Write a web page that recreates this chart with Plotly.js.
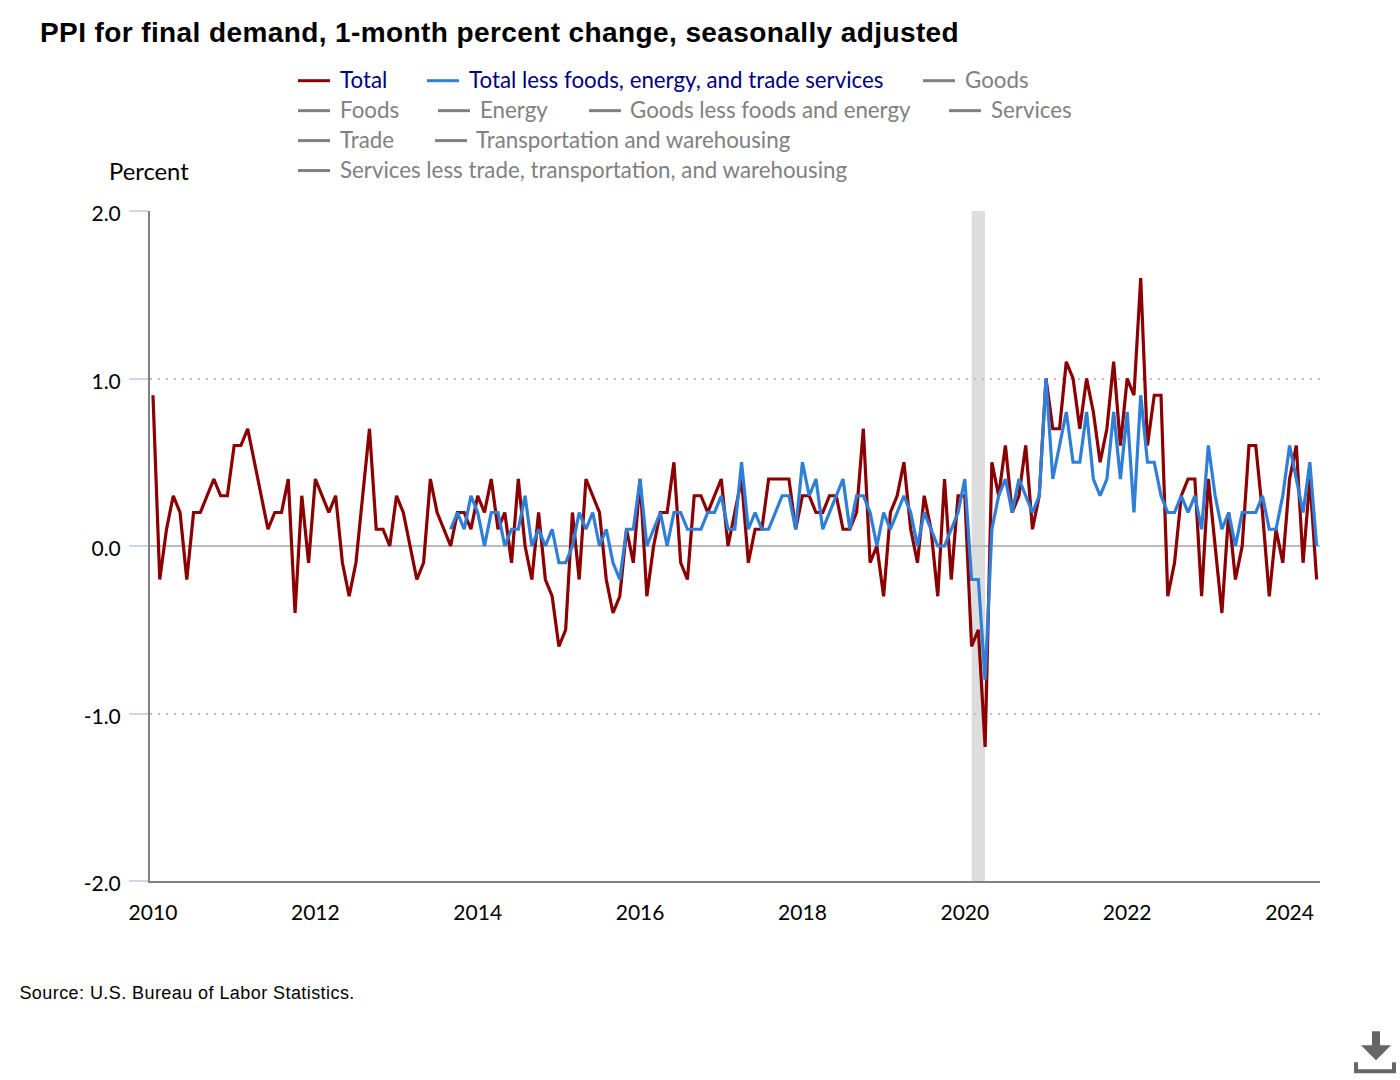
<!DOCTYPE html>
<html>
<head>
<meta charset="utf-8">
<title>PPI for final demand</title>
<script src="https://cdn.plot.ly/plotly-3.0.1.min.js"></script>
<style>
  html, body { margin: 0; padding: 0; background: #fff; }
  #plot { width: 1400px; height: 1080px; }
  /* title and source are letter-spaced in the original */
  .gtitle { letter-spacing: 0.4px; }
  .annotation[data-index="11"] .annotation-text { letter-spacing: 0.43px; }
</style>
</head>
<body>
<div id="plot"></div>
<script>
"use strict";

// ── Data: monthly percent change, Jan 2010 to May 2024 ──
const totalValues = [
    0.9, -0.2, 0.1, 0.3, 0.2, -0.2, 0.2, 0.2, 0.3, 0.4, 0.3, 0.3,
    0.6, 0.6, 0.7, 0.5, 0.3, 0.1, 0.2, 0.2, 0.4, -0.4, 0.3, -0.1,
    0.4, 0.3, 0.2, 0.3, -0.1, -0.3, -0.1, 0.3, 0.7, 0.1, 0.1, 0.0,
    0.3, 0.2, 0.0, -0.2, -0.1, 0.4, 0.2, 0.1, 0.0, 0.2, 0.2, 0.1,
    0.3, 0.2, 0.4, 0.1, 0.2, -0.1, 0.4, 0.0, -0.2, 0.2, -0.2, -0.3,
    -0.6, -0.5, 0.2, -0.2, 0.4, 0.3, 0.2, -0.2, -0.4, -0.3, 0.1, -0.1,
    0.4, -0.3, 0.0, 0.2, 0.2, 0.5, -0.1, -0.2, 0.3, 0.3, 0.2, 0.3,
    0.4, 0.0, 0.2, 0.4, -0.1, 0.1, 0.1, 0.4, 0.4, 0.4, 0.4, 0.1,
    0.3, 0.3, 0.2, 0.2, 0.3, 0.3, 0.1, 0.1, 0.2, 0.7, -0.1, 0.0,
    -0.3, 0.2, 0.3, 0.5, 0.1, -0.1, 0.3, 0.1, -0.3, 0.4, -0.2, 0.3,
    0.3, -0.6, -0.5, -1.2, 0.5, 0.3, 0.6, 0.2, 0.3, 0.6, 0.1, 0.3,
    1.0, 0.7, 0.7, 1.1, 1.0, 0.7, 1.0, 0.8, 0.5, 0.7, 1.1, 0.6,
    1.0, 0.9, 1.6, 0.6, 0.9, 0.9, -0.3, -0.1, 0.3, 0.4, 0.4, -0.3,
    0.4, 0.0, -0.4, 0.2, -0.2, 0.0, 0.6, 0.6, 0.2, -0.3, 0.1, -0.1,
    0.4, 0.6, -0.1, 0.4, -0.2,
];
// Starts Sep 2013
const coreValues = [
    0.1, 0.2, 0.1, 0.3,
    0.2, 0.0, 0.2, 0.2, 0.0, 0.1, 0.1, 0.3, 0.0, 0.1, 0.0, 0.1,
    -0.1, -0.1, 0.0, 0.2, 0.1, 0.2, 0.0, 0.1, -0.1, -0.2, 0.1, 0.1,
    0.4, 0.0, 0.1, 0.2, 0.0, 0.2, 0.2, 0.1, 0.1, 0.1, 0.2, 0.2,
    0.3, 0.1, 0.1, 0.5, 0.1, 0.2, 0.1, 0.1, 0.2, 0.3, 0.3, 0.1,
    0.5, 0.3, 0.4, 0.1, 0.2, 0.3, 0.4, 0.1, 0.3, 0.3, 0.2, 0.0,
    0.2, 0.1, 0.2, 0.3, 0.2, 0.0, 0.2, 0.1, 0.0, 0.0, 0.1, 0.2,
    0.4, -0.2, -0.2, -0.8, 0.1, 0.3, 0.4, 0.2, 0.4, 0.3, 0.2, 0.3,
    1.0, 0.4, 0.6, 0.8, 0.5, 0.5, 0.8, 0.4, 0.3, 0.4, 0.8, 0.4,
    0.8, 0.2, 0.9, 0.5, 0.5, 0.3, 0.2, 0.2, 0.3, 0.2, 0.3, 0.1,
    0.6, 0.3, 0.1, 0.2, 0.0, 0.2, 0.2, 0.2, 0.3, 0.1, 0.1, 0.3,
    0.6, 0.4, 0.2, 0.5, 0.0,
];
const tickYears = ["2010", "2012", "2014", "2016", "2018", "2020", "2022", "2024"];
const yTicks = [-2, -1, 0, 1, 2];
const yTickLabels = ["-2.0", "-1.0", "0.0", "1.0", "2.0"];
const recessionStart = "2020-02";
const recessionEnd = "2020-04";

const TITLE = "PPI for final demand, 1-month percent change, seasonally adjusted";
const SOURCE = "Source: U.S. Bureau of Labor Statistics.";

// Month labels for the category axis
const months = [];
for (let y = 2010; y <= 2024; y++) {
    for (let m = 1; m <= 12; m++) {
        if (months.length < totalValues.length) months.push(y + "-" + String(m).padStart(2, "0"));
    }
}
const coreMonths = months.slice(months.length - coreValues.length);

// ── Page geometry (pixels in the 1400x1080 window) ──
const W = 1400, H = 1080;
const M = { l: 150, r: 80, t: 210.5, b: 198.5 };
const plotW = W - M.l - M.r, plotH = H - M.t - M.b;
const px = x => (x - M.l) / plotW;
const py = y => 1 - (y - M.t) / plotH;

const LEGEND_FONT = "Lato, sans-serif";
const C_ON = "#000080", C_OFF = "#808080";

// Legend is laid out by hand: [label, swatch x, text x, row y, swatch colour, text colour]
const legendItems = [
    ["Total", 298, 340, 80, "#8b0000", C_ON],
    ["Total less foods, energy, and trade services", 427, 469, 80, "#2f7ed8", C_ON],
    ["Goods", 923, 965, 80, C_OFF, C_OFF],
    ["Foods", 298, 340, 110, C_OFF, C_OFF],
    ["Energy", 438, 480, 110, C_OFF, C_OFF],
    ["Goods less foods and energy", 589, 630, 110, C_OFF, C_OFF],
    ["Services", 949, 991, 110, C_OFF, C_OFF],
    ["Trade", 298, 340, 140, C_OFF, C_OFF],
    ["Transportation and warehousing", 435, 476, 140, C_OFF, C_OFF],
    ["Services less trade, transportation, and warehousing", 298, 340, 170, C_OFF, C_OFF],
];

const shapes = [{
    type: "rect", layer: "below", xref: "x", yref: "paper",
    x0: recessionStart, x1: recessionEnd, y0: 0, y1: 1,
    fillcolor: "#dddddd", line: { width: 0 },
}];
const annotations = [];

for (const [label, sx, tx, y, col, textCol] of legendItems) {
    shapes.push({
        type: "line", xref: "paper", yref: "paper",
        x0: px(sx), x1: px(sx + 32), y0: py(y), y1: py(y),
        line: { color: col, width: 3 },
    });
    annotations.push({
        xref: "paper", yref: "paper", x: px(tx), y: py(y - 1),
        xanchor: "left", yanchor: "middle", showarrow: false,
        xshift: -1, text: label, borderpad: 0,
        font: { family: LEGEND_FONT, size: 22.3, color: textCol },
    });
}

annotations.push({
    xref: "paper", yref: "paper", x: px(108), y: py(170),
    xanchor: "left", yanchor: "middle", showarrow: false, xshift: -1, text: "Percent",
    font: { family: LEGEND_FONT, size: 23.8, color: "#000" },
});
annotations.push({
    xref: "paper", yref: "paper", x: px(27), y: py(994),
    xanchor: "left", yanchor: "middle", showarrow: false, xshift: -1, text: SOURCE,
    font: { family: "Liberation Sans, Arial, sans-serif", size: 18, color: "#000" },
});

// Download glyph, bottom right
const iconPath = pts => "M " + pts.map(p => px(p[0]) + " " + py(p[1])).join(" L ") + " Z";
shapes.push({
    type: "path", xref: "paper", yref: "paper", fillcolor: "#666", line: { width: 0 },
    path: iconPath([[1372, 1032], [1380, 1032], [1380, 1046], [1391, 1046], [1376, 1061], [1361, 1046], [1372, 1046]]),
});
shapes.push({
    type: "path", xref: "paper", yref: "paper", fillcolor: "#666", line: { width: 0 },
    path: iconPath([[1354, 1063], [1358, 1063], [1358, 1070], [1392, 1070], [1392, 1063], [1396, 1063], [1396, 1074], [1354, 1074]]),
});

const traces = [
    {
        type: "scatter", mode: "lines", name: "Total",
        x: months, y: totalValues,
        line: { color: "#8b0000", width: 3.2 }, hoverinfo: "skip",
    },
    {
        type: "scatter", mode: "lines", name: "Total less foods, energy, and trade services",
        x: coreMonths, y: coreValues,
        line: { color: "#2f7ed8", width: 3.2 }, hoverinfo: "skip",
    },
];

const layout = {
    width: W, height: H,
    margin: { l: M.l, r: M.r, t: M.t, b: M.b, pad: 0 },
    paper_bgcolor: "#fff", plot_bgcolor: "#fff",
    showlegend: false,
    title: {
        text: "<b>" + TITLE + "</b>",
        x: 40 / W, xanchor: "left", xref: "container",
        y: 1 - 32.5 / H, yanchor: "middle", yref: "container",
        font: { family: "Liberation Sans, Arial, sans-serif", size: 28, color: "#000" },
    },
    xaxis: {
        type: "category", categoryorder: "array", categoryarray: months,
        range: [-0.44, 172.5],
        tickmode: "array",
        tickvals: tickYears.map(y => y + "-01"),
        ticktext: tickYears,
        ticks: "", ticklabelstandoff: 12,
        showgrid: false, zeroline: false,
        showline: true, linecolor: "#808080", linewidth: 2,
        tickfont: { family: LEGEND_FONT, size: 21, color: "#000" },
    },
    yaxis: {
        range: [-2, 2],
        tickmode: "array", tickvals: yTicks, ticktext: yTickLabels,
        ticks: "outside", ticklen: 19, tickwidth: 2, tickcolor: "#ccd6eb",
        ticklabelstandoff: 4, ticklabelshift: 3,
        showgrid: true, gridcolor: "#bdbdbd", gridwidth: 2, griddash: "2px,6px",
        zeroline: true, zerolinecolor: "#bbbbbb", zerolinewidth: 2,
        showline: true, linecolor: "#808080", linewidth: 2,
        tickfont: { family: LEGEND_FONT, size: 21, color: "#000" },
    },
    shapes, annotations,
};

Plotly.newPlot("plot", traces, layout, { displayModeBar: false, responsive: false });
</script>
</body>
</html>
